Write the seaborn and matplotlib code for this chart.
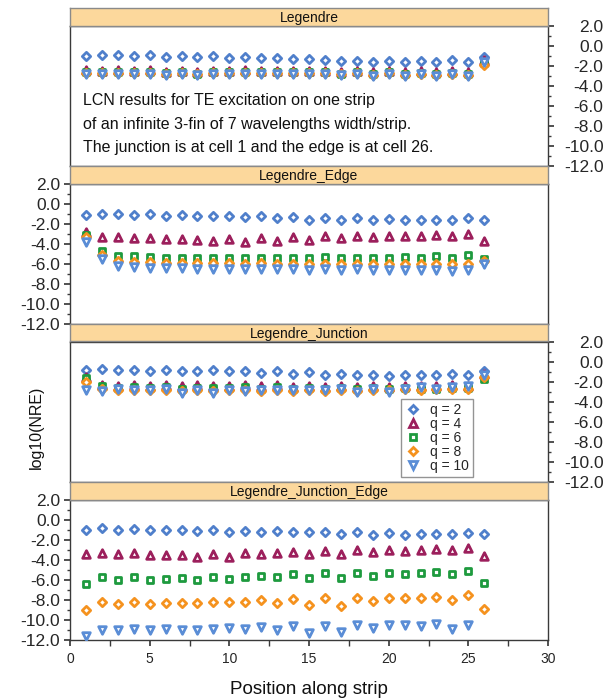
import numpy as np
import pandas as pd
import matplotlib
matplotlib.use("Agg")
import matplotlib.pyplot as plt
from matplotlib.lines import Line2D
from matplotlib.ticker import MultipleLocator, FormatStrFormatter
import seaborn as sns

sns.set_theme(style="white")
plt.rcParams["font.family"] = ["Liberation Sans", "DejaVu Sans"]
plt.rcParams["axes.unicode_minus"] = False

# ---------------------------------------------------------------- data
positions = list(range(1, 27))
q_levels = [2, 4, 6, 8, 10]
panel_names = ["Legendre", "Legendre_Edge", "Legendre_Junction",
               "Legendre_Junction_Edge"]

# log10(NRE) per cell, panel "Legendre"
leg_q2 = [-1.05, -0.95, -0.95, -1.05, -0.98, -1.12, -1.02, -1.18, -1.05, -1.25,
          -1.18, -1.25, -1.25, -1.35, -1.38, -1.45, -1.52, -1.52, -1.62, -1.52,
          -1.65, -1.52, -1.62, -1.45, -1.62, -1.18]
leg_q4 = [-2.45, -2.50, -2.45, -2.50, -2.45, -2.60, -2.50, -2.62, -2.50, -2.50,
          -2.48, -2.50, -2.50, -2.50, -2.50, -2.50, -2.60, -2.50, -2.62, -2.50,
          -2.62, -2.50, -2.62, -2.50, -2.60, -1.45]
leg_q6 = [-2.60, -2.65, -2.62, -2.65, -2.62, -2.78, -2.65, -2.80, -2.65, -2.68,
          -2.65, -2.68, -2.65, -2.68, -2.65, -2.68, -2.80, -2.68, -2.82, -2.68,
          -2.82, -2.70, -2.82, -2.70, -2.82, -1.75]
leg_q8 = [-2.72, -2.75, -2.72, -2.75, -2.72, -2.85, -2.75, -2.88, -2.75, -2.78,
          -2.75, -2.78, -2.75, -2.78, -2.75, -2.78, -2.88, -2.78, -2.90, -2.78,
          -2.90, -2.80, -2.90, -2.80, -2.90, -1.90]
leg_q10 = [-2.80, -2.83, -2.80, -2.83, -2.80, -2.95, -2.83, -2.97, -2.83, -2.85,
           -2.83, -2.85, -2.83, -2.85, -2.83, -2.85, -2.97, -2.85, -3.00, -2.85,
           -3.00, -2.87, -3.00, -2.87, -3.00, -1.60]

# panel "Legendre_Edge"
edge_q2 = [-1.10, -1.03, -1.00, -1.13, -1.07, -1.27, -1.13, -1.27, -1.20, -1.27,
           -1.30, -1.27, -1.40, -1.32, -1.60, -1.40, -1.60, -1.47, -1.67, -1.53,
           -1.63, -1.60, -1.63, -1.60, -1.47, -1.60]
edge_q4 = [-2.80, -3.37, -3.37, -3.47, -3.47, -3.57, -3.57, -3.63, -3.70, -3.53,
           -3.87, -3.47, -3.77, -3.35, -3.63, -3.27, -3.47, -3.27, -3.33, -3.27,
           -3.20, -3.27, -3.13, -3.27, -3.03, -3.70]
edge_q6 = [-3.13, -4.70, -5.20, -5.27, -5.37, -5.43, -5.43, -5.43, -5.47, -5.43,
           -5.47, -5.40, -5.47, -5.40, -5.47, -5.37, -5.47, -5.40, -5.40, -5.40,
           -5.30, -5.47, -5.20, -5.47, -5.13, -5.53]
edge_q8 = [-3.37, -5.13, -5.70, -5.80, -5.87, -5.93, -5.95, -5.97, -5.97, -5.97,
           -6.00, -5.97, -6.00, -6.00, -6.03, -6.00, -6.03, -6.00, -6.05, -6.03,
           -6.05, -6.03, -6.05, -6.05, -6.03, -5.70]
edge_q10 = [-3.80, -5.53, -6.20, -6.37, -6.45, -6.47, -6.47, -6.50, -6.50, -6.50,
            -6.52, -6.50, -6.55, -6.50, -6.60, -6.55, -6.60, -6.55, -6.65, -6.60,
            -6.65, -6.65, -6.65, -6.70, -6.60, -6.03]

# panel "Legendre_Junction"
junc_q2 = [-0.80, -0.70, -0.87, -0.80, -0.93, -0.80, -0.93, -0.93, -0.87, -0.93,
           -0.93, -1.13, -0.93, -1.27, -1.03, -1.37, -1.20, -1.37, -1.30, -1.40,
           -1.37, -1.30, -1.37, -1.27, -1.37, -0.93]
junc_q4 = [-1.50, -2.30, -2.40, -2.35, -2.40, -2.35, -2.45, -2.35, -2.45, -2.40,
           -2.35, -2.45, -2.35, -2.50, -2.40, -2.50, -2.40, -2.50, -2.45, -2.50,
           -2.45, -2.45, -2.40, -2.35, -2.40, -1.20]
junc_q6 = [-1.60, -2.40, -2.60, -2.55, -2.60, -2.55, -2.70, -2.60, -2.65, -2.60,
           -2.55, -2.70, -2.55, -2.75, -2.60, -2.70, -2.60, -2.75, -2.65, -2.75,
           -2.65, -2.70, -2.75, -2.60, -2.65, -1.75]
junc_q8 = [-2.03, -2.70, -2.80, -2.80, -2.85, -2.80, -2.95, -2.85, -2.95, -2.85,
           -2.85, -2.90, -2.85, -2.90, -2.85, -2.90, -2.85, -2.90, -2.80, -2.85,
           -2.75, -2.80, -2.75, -2.70, -2.70, -1.50]
junc_q10 = [-2.80, -2.95, -2.75, -2.80, -2.80, -2.75, -3.10, -2.80, -3.15, -2.80,
            -2.90, -2.80, -2.80, -2.80, -2.80, -2.80, -2.75, -3.00, -2.75, -3.00,
            -2.70, -2.55, -2.75, -2.50, -2.40, -1.30]

# panel "Legendre_Junction_Edge" (q = 10 has no value at cell 26)
je_q2 = [-1.00, -0.87, -1.00, -0.93, -1.07, -1.07, -1.07, -1.17, -1.07, -1.27,
         -1.13, -1.27, -1.17, -1.27, -1.27, -1.27, -1.43, -1.27, -1.57, -1.37,
         -1.57, -1.40, -1.47, -1.40, -1.33, -1.43]
je_q4 = [-3.40, -3.33, -3.47, -3.33, -3.53, -3.50, -3.50, -3.73, -3.40, -3.73,
         -3.33, -3.40, -3.33, -3.23, -3.43, -3.13, -3.47, -3.07, -3.27, -3.03,
         -3.13, -3.03, -2.97, -3.03, -2.87, -3.67]
je_q6 = [-6.40, -5.77, -6.07, -5.77, -6.07, -5.93, -5.83, -6.00, -5.70, -5.90,
         -5.70, -5.63, -5.70, -5.47, -5.83, -5.37, -5.87, -5.37, -5.67, -5.33,
         -5.43, -5.33, -5.27, -5.43, -5.17, -6.33]
je_q8 = [-9.07, -8.23, -8.47, -8.27, -8.43, -8.33, -8.33, -8.33, -8.27, -8.27,
         -8.23, -8.07, -8.33, -7.93, -8.57, -7.87, -8.67, -7.80, -8.13, -7.80,
         -7.87, -7.83, -7.73, -8.03, -7.57, -8.97]
je_q10 = [-11.67, -11.00, -11.03, -10.93, -11.03, -10.93, -11.00, -11.00, -10.97,
          -10.87, -10.93, -10.70, -11.07, -10.60, -11.37, -10.60, -11.20, -10.57,
          -10.80, -10.57, -10.53, -10.67, -10.40, -10.93, -10.53, np.nan]

y_tick_values = [2, 0, -2, -4, -6, -8, -10, -12]
x_tick_values = [0, 5, 10, 15, 20, 25, 30]

annotation_lines = [
    "LCN results for TE excitation on one strip",
    "of an infinite 3-fin of 7 wavelengths width/strip.",
    "The junction is at cell 1 and the edge is at cell 26.",
]

series = {
    "Legendre": [leg_q2, leg_q4, leg_q6, leg_q8, leg_q10],
    "Legendre_Edge": [edge_q2, edge_q4, edge_q6, edge_q8, edge_q10],
    "Legendre_Junction": [junc_q2, junc_q4, junc_q6, junc_q8, junc_q10],
    "Legendre_Junction_Edge": [je_q2, je_q4, je_q6, je_q8, je_q10],
}

rows = []
for name in panel_names:
    for q, vals in zip(q_levels, series[name]):
        for p, v in zip(positions, vals):
            rows.append({"panel": name, "q": q, "position": p, "nre": v})
df = pd.DataFrame(rows).dropna()

# ---------------------------------------------------------------- styles
markers = {2: "D", 4: "^", 6: "s", 8: "D", 10: "v"}
colors = {2: "#4F7FCB", 4: "#9C1F5C", 6: "#1E9A3E", 8: "#F5921E", 10: "#5A8DD6"}
sizes = {2: 18, 4: 30, 6: 25, 8: 18, 10: 30}
edge_w = 2.0
strip_face = "#FCD89C"

W, H = 613, 699
fig = plt.figure(figsize=(W / 100, H / 100), dpi=100)
fig.patch.set_facecolor("white")

left_px, right_px = 70, 548
plot_h, strip_h, step = 140, 17.5, 158

axes = []
for k, name in enumerate(panel_names):
    top_plot = 25.5 + step * k
    ax = fig.add_axes([left_px / W, 1 - (top_plot + plot_h) / H,
                       (right_px - left_px) / W, plot_h / H])
    st = fig.add_axes([left_px / W, 1 - (8 + step * k + strip_h) / H,
                       (right_px - left_px) / W, strip_h / H])
    st.set_facecolor(strip_face)
    st.set_xticks([])
    st.set_yticks([])
    for sp in st.spines.values():
        sp.set_color("#8a8a8a")
        sp.set_linewidth(1.0)
    st.text(0.5, 0.45, name, ha="center", va="center", fontsize=10, color="#111111",
            transform=st.transAxes)

    sub = df[df["panel"] == name]
    for q in q_levels:
        d = sub[sub["q"] == q]
        sns.scatterplot(data=d, x="position", y="nre", ax=ax, marker=markers[q],
                        s=sizes[q], color=colors[q], facecolor="white",
                        edgecolor=colors[q], linewidth=edge_w, zorder=3)

    ax.set_facecolor("white")
    ax.set_xlim(0, 30)
    ax.set_ylim(-12, 2)
    ax.set_xlabel("")
    ax.set_ylabel("")
    for sp in ax.spines.values():
        sp.set_color("#3a3a3a")
        sp.set_linewidth(1.0)
        sp.set_visible(True)

    ax.set_yticks(y_tick_values)
    ax.yaxis.set_major_formatter(FormatStrFormatter("%.1f"))
    ax.yaxis.set_minor_locator(MultipleLocator(1))

    if k in (0, 2):
        ax.tick_params(axis="y", which="both", left=False, right=True,
                       labelleft=False, labelright=True, direction="out",
                       color="#3a3a3a")
        ax.tick_params(axis="y", which="major", length=4, labelsize=12.5, pad=36)
        ax.tick_params(axis="y", which="minor", length=2.5)
        plt.setp(ax.get_yticklabels(), ha="right")
    else:
        ax.tick_params(axis="y", which="both", left=True, right=False,
                       labelleft=True, labelright=False, direction="out",
                       color="#3a3a3a")
        ax.tick_params(axis="y", which="major", length=4, labelsize=12.5, pad=3)
        ax.tick_params(axis="y", which="minor", length=2.5)

    if k == 3:
        ax.set_xticks(x_tick_values)
        ax.xaxis.set_minor_locator(MultipleLocator(2.5))
        ax.tick_params(axis="x", which="both", bottom=True, direction="out",
                       color="#3a3a3a")
        ax.tick_params(axis="x", which="major", length=4, labelsize=10, pad=5)
        ax.tick_params(axis="x", which="minor", length=4)
    else:
        ax.tick_params(axis="x", which="both", bottom=False, labelbottom=False)
    axes.append(ax)

# explanatory note in the first panel
for frac, line in zip([0.462, 0.293, 0.132], annotation_lines):
    axes[0].text(0.027, frac, line, transform=axes[0].transAxes, fontsize=11.5,
                 va="center", ha="left", color="#111111")

# legend inside the junction panel
handles = [Line2D([], [], linestyle="none", marker=markers[q],
                  markersize=np.sqrt(sizes[q]), markerfacecolor="white",
                  markeredgecolor=colors[q], markeredgewidth=edge_w)
           for q in q_levels]
leg = axes[2].legend(handles, [f"q = {q}" for q in q_levels], loc="lower right",
                     bbox_to_anchor=(0.843, 0.032), fontsize=10, frameon=True,
                     fancybox=False, edgecolor="#7a7a7a", handlelength=1.2,
                     handletextpad=0.6, labelspacing=0.0, borderpad=0.3,
                     borderaxespad=0)
leg.get_frame().set_linewidth(1.0)

fig.text((left_px + right_px) / 2 / W, 1 - 689 / H, "Position along strip",
         ha="center", va="center", fontsize=13.5, color="#111111")
fig.text(36 / W, 1 - 427 / H, "log10(NRE)", rotation=90, ha="center",
         va="center", fontsize=11.5, color="#111111")

fig.savefig("out.png", dpi=100, facecolor="white")
